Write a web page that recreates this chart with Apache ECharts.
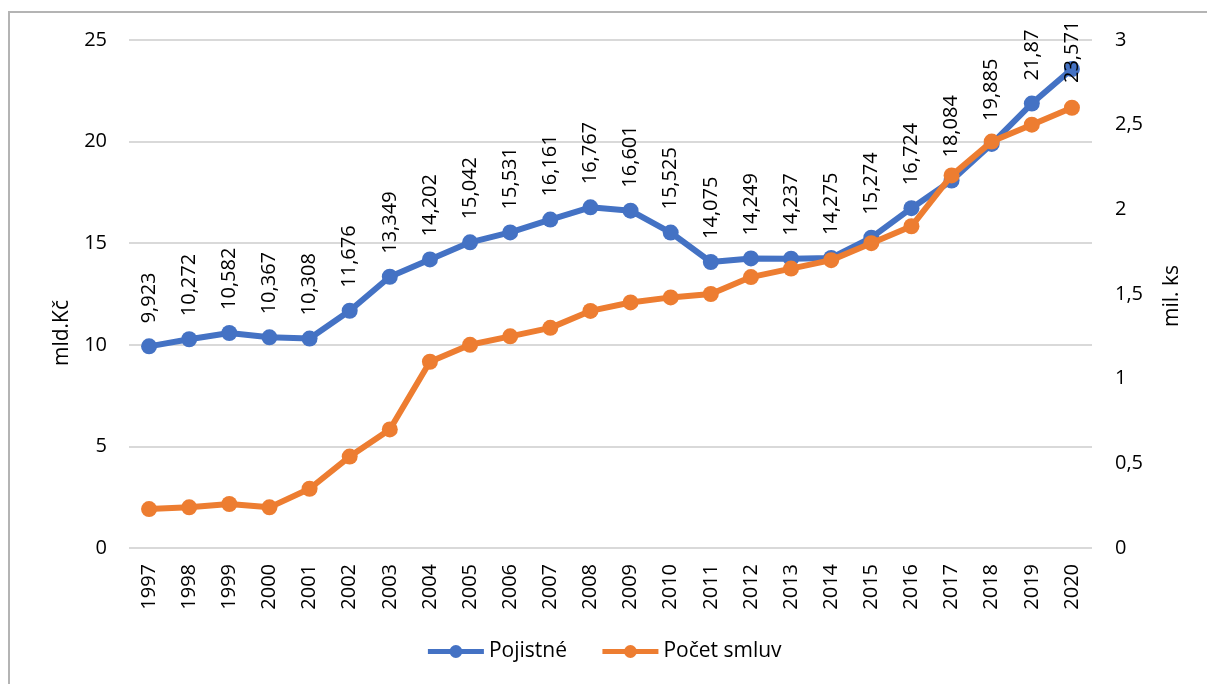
<!DOCTYPE html>
<html>
<head>
<meta charset="utf-8">
<script src="https://cdn.jsdelivr.net/npm/echarts@6/dist/echarts.min.js"></script>
<style>
  html, body { margin: 0; padding: 0; background: #fff; }
  #chart { width: 1207px; height: 684px; }
</style>
</head>
<body>
<div id="chart"></div>
<script>
// roky
var years = ['1997', '1998', '1999', '2000', '2001', '2002', '2003', '2004', '2005', '2006', '2007', '2008',
             '2009', '2010', '2011', '2012', '2013', '2014', '2015', '2016', '2017', '2018', '2019', '2020'];
// pojistne v mld. Kc
var pojistne = [9.923, 10.272, 10.582, 10.367, 10.308, 11.676, 13.349, 14.202, 15.042, 15.531, 16.161, 16.767,
                16.601, 15.525, 14.075, 14.249, 14.237, 14.275, 15.274, 16.724, 18.084, 19.885, 21.87, 23.571];
// pocet smluv v mil. ks (odhad z grafu)
var pocetSmluv = [0.23, 0.24, 0.26, 0.24, 0.35, 0.54, 0.70, 1.10, 1.20, 1.25, 1.30, 1.40,
                  1.45, 1.48, 1.50, 1.60, 1.65, 1.70, 1.80, 1.90, 2.20, 2.40, 2.50, 2.60];

var font = '"Open Sans", Lato, sans-serif';
var txt = '#000';
var fs = 20;
var comma = function (v) { return String(v).replace('.', ','); };

// posledni popisek se v Excelu posune dolu, aby se vesel
var pojistneData = pojistne.map(function (v, i) {
    if (i === pojistne.length - 1) {
        return { value: v, label: { offset: [-37, 0] } };
    }
    return v;
});

var chart = echarts.init(document.getElementById('chart'));
chart.setOption({
    animation: false,
    textStyle: { fontFamily: font },
    grid: { left: 129, right: 115, top: 40, bottom: 136 },
    legend: {
        bottom: 17,
        left: 'center',
        itemWidth: 56,
        itemHeight: 16,
        itemGap: 33,
        lineStyle: { width: 5 },
        textStyle: { fontSize: 21, color: txt, fontFamily: font },
        data: ['Pojistné', 'Počet smluv']
    },
    xAxis: {
        type: 'category',
        data: years,
        axisLine: { show: false },
        axisTick: { show: false },
        axisLabel: { rotate: 90, fontSize: fs, color: txt, margin: 16, fontFamily: font }
    },
    yAxis: [{
        type: 'value',
        min: 0, max: 25, interval: 5,
        axisLine: { show: false },
        axisTick: { show: false },
        splitLine: { lineStyle: { color: '#d9d9d9', width: 2 } },
        axisLabel: { fontSize: fs, color: txt, margin: 22, fontFamily: font }
    }, {
        type: 'value',
        min: 0, max: 3, interval: 0.5,
        axisLine: { show: false },
        axisTick: { show: false },
        splitLine: { show: false },
        axisLabel: { fontSize: fs, color: txt, margin: 23, fontFamily: font, formatter: comma }
    }],
    graphic: [{
        type: 'polyline',
        shape: { points: [[9, 684], [9, 12], [1207, 12]] },
        style: { stroke: '#b4b4b4', lineWidth: 2, fill: null }
    }, {
        type: 'text',
        x: 62, y: 333, rotation: Math.PI / 2,
        style: { text: 'mld.Kč', fill: txt, font: '21px ' + font, align: 'center', verticalAlign: 'middle' }
    }, {
        type: 'text',
        x: 1172, y: 296, rotation: Math.PI / 2,
        style: { text: 'mil. ks', fill: txt, font: '21px ' + font, align: 'center', verticalAlign: 'middle' }
    }],
    series: [{
        name: 'Pojistné',
        type: 'line',
        data: pojistneData,
        yAxisIndex: 0,
        symbol: 'circle',
        symbolSize: 16,
        color: '#4472c4',
        lineStyle: { width: 6, color: '#4472c4' },
        z: 3,
        label: {
            show: true,
            position: 'top',
            rotate: 90,
            align: 'left',
            verticalAlign: 'middle',
            distance: 15,
            fontSize: fs,
            color: txt,
            fontFamily: font,
            formatter: function (p) { return comma(p.value); }
        }
    }, {
        name: 'Počet smluv',
        type: 'line',
        data: pocetSmluv,
        yAxisIndex: 1,
        symbol: 'circle',
        symbolSize: 16,
        color: '#ed7d31',
        lineStyle: { width: 6, color: '#ed7d31' },
        z: 4
    }]
});
</script>
</body>
</html>
